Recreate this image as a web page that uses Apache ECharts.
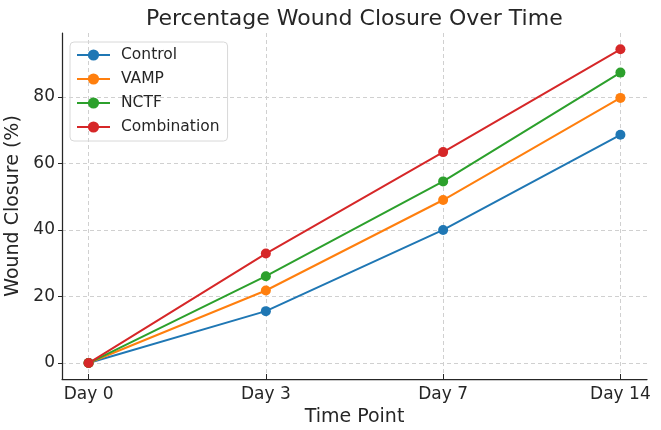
<!DOCTYPE html>
<html>
<head>
<meta charset="utf-8">
<script src="https://cdn.jsdelivr.net/npm/echarts@6/dist/echarts.min.js"></script>
<style>
  html, body { margin: 0; padding: 0; background: #fff; }
  #main { width: 661px; height: 430px; }
</style>
</head>
<body>
<div id="main"></div>
<script>
// data
var categories = ['Day 0', 'Day 3', 'Day 7', 'Day 14'];
var control = [0, 15.6, 40, 68.6];
var vamp = [0, 21.8, 49, 79.7];
var nctf = [0, 26.1, 54.6, 87.3];
var combination = [0, 32.9, 63.4, 94.3];
var yTicks = [0, 20, 40, 60, 80];
var xTicks = [0, 1, 2, 3];

var textColor = '#262626';
var font = 'DejaVu Sans';
var gridLine = { show: true, lineStyle: { color: '#d0d0d0', type: [4, 3], width: 1 } };

function pairs(arr) {
  return arr.map(function (v, i) { return [i, v]; });
}

function makeSeries(name, values, color) {
  return {
    name: name,
    type: 'line',
    data: pairs(values),
    symbol: 'circle',
    symbolSize: 10,
    lineStyle: { width: 2, color: color },
    itemStyle: { color: color },
    emphasis: { disabled: true }
  };
}

var chart = echarts.init(document.getElementById('main'));
chart.setOption({
  animation: false,
  textStyle: { fontFamily: font, color: textColor },
  title: {
    text: 'Percentage Wound Closure Over Time',
    left: 141,
    top: 3,
    textStyle: { fontFamily: font, fontSize: 22, fontWeight: 'normal', color: textColor }
  },
  legend: {
    orient: 'vertical',
    left: 70,
    top: 42,
    padding: [5, 8, 6, 6],
    itemWidth: 33,
    itemHeight: 14,
    itemGap: 8,
    borderColor: '#d8d8d8',
    borderWidth: 1,
    borderRadius: 4,
    textStyle: { fontFamily: font, fontSize: 15.5, lineHeight: 16, color: textColor, padding: [0, 0, 0, 6] },
    data: ['Control', 'VAMP', 'NCTF', 'Combination']
  },
  grid: { left: 62, right: 14, top: 33, bottom: 51, outerBoundsMode: 'none', containLabel: false },
  xAxis: {
    type: 'value',
    min: -0.15,
    max: 3.15,
    name: 'Time Point',
    nameLocation: 'middle',
    nameGap: 27,
    nameTextStyle: { fontFamily: font, fontSize: 19, color: textColor },
    axisLine: { onZero: false, lineStyle: { color: textColor, width: 1.25 } },
    axisTick: { show: true, inside: true, length: 5, customValues: xTicks, lineStyle: { color: textColor } },
    axisLabel: {
      customValues: xTicks,
      fontFamily: font, fontSize: 17, color: textColor, margin: 7,
      formatter: function (v) { return categories[Math.round(v)]; }
    },
    splitLine: gridLine
  },
  yAxis: {
    type: 'value',
    min: -4.8,
    max: 99.2,
    name: 'Wound Closure (%)',
    nameLocation: 'middle',
    nameGap: 34,
    nameTextStyle: { fontFamily: font, fontSize: 19, color: textColor },
    axisLine: { show: true, onZero: false, lineStyle: { color: textColor, width: 1.25 } },
    axisTick: { show: true, length: 4, customValues: yTicks, lineStyle: { color: textColor } },
    axisLabel: { customValues: yTicks, fontFamily: font, fontSize: 17, color: textColor, margin: 7 },
    splitLine: gridLine
  },
  series: [
    makeSeries('Control', control, '#1f77b4'),
    makeSeries('VAMP', vamp, '#ff7f0e'),
    makeSeries('NCTF', nctf, '#2ca02c'),
    makeSeries('Combination', combination, '#d62728')
  ]
});
</script>
</body>
</html>
